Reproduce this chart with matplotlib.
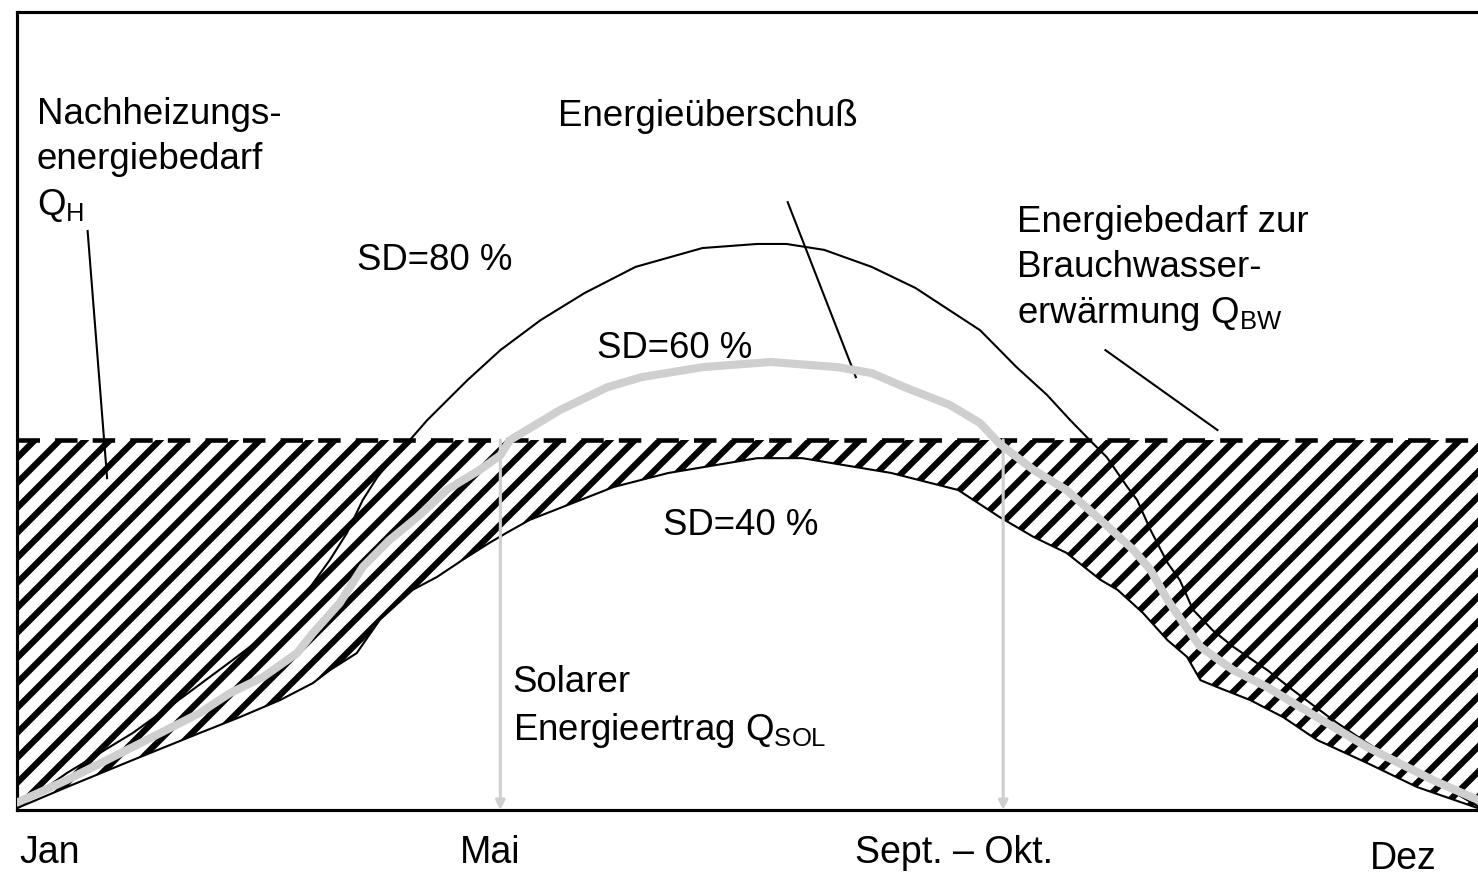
import matplotlib
matplotlib.use("Agg")
import matplotlib.pyplot as plt

# ---------------------------------------------------------------------------
# Daten (x: Monate ab Jan, y: Energie, Brauchwasserbedarf = 100)
# ---------------------------------------------------------------------------
QBW_LEVEL = 100

sd80_x = [0.0, 0.41, 0.95, 1.36, 1.77, 2.02, 2.32, 2.41, 2.57, 2.71, 2.84, 2.96,
          3.12, 3.24, 3.37, 3.70, 3.97, 4.30, 4.66, 5.08, 5.63, 6.08, 6.32, 6.63,
          7.02, 7.38, 7.57, 7.91, 8.21, 8.46, 8.65, 8.81, 8.95, 9.12, 9.20, 9.31,
          9.45, 9.55, 9.66, 9.82, 9.99, 10.27, 10.48, 10.81, 11.09, 11.36, 11.63, 12.0]
sd80_y = [0.5, 10.0, 20.8, 30.5, 40.5, 46.8, 55.9, 60.3, 67.6, 74.9, 83.8, 90.0,
          96.5, 100.5, 105.4, 116.2, 124.3, 132.4, 139.7, 146.8, 151.9, 153.0, 153.0, 151.4,
          146.8, 141.1, 137.0, 129.7, 119.7, 112.2, 105.4, 100.0, 95.4, 87.3, 83.8, 75.7,
          66.8, 62.2, 54.1, 48.6, 44.1, 37.8, 32.4, 24.3, 18.1, 12.7, 8.1, 1.0]

sd60_x = [0.0, 0.41, 0.95, 1.50, 1.75, 2.02, 2.30, 2.43, 2.65, 2.84, 3.06, 3.29,
          3.53, 3.80, 3.97, 4.05, 4.46, 4.85, 5.13, 5.63, 6.19, 6.74, 7.02, 7.29,
          7.66, 7.91, 8.07, 8.35, 8.62, 8.90, 9.17, 9.31, 9.45, 9.58, 9.72, 9.99,
          10.27, 10.54, 11.09, 11.63, 12.0]
sd60_y = [2.0, 8.1, 17.0, 26.2, 31.6, 35.9, 42.4, 47.8, 55.9, 65.7, 73.0, 79.2,
          86.5, 91.9, 95.9, 100.0, 108.1, 114.3, 117.0, 119.7, 121.1, 119.7, 118.1, 114.3,
          109.5, 104.6, 99.0, 91.9, 86.5, 78.4, 70.3, 64.9, 56.8, 50.5, 44.1, 37.8,
          33.2, 27.8, 17.0, 8.1, 2.7]

sd40_x = [0.0, 0.41, 0.95, 1.50, 1.83, 2.16, 2.43, 2.57, 2.79, 2.98, 3.25, 3.45,
          3.66, 3.88, 4.02, 4.21, 4.90, 5.35, 6.08, 6.45, 7.18, 7.73, 8.07, 8.35,
          8.62, 8.90, 9.04, 9.25, 9.45, 9.61, 9.72, 9.86, 10.13, 10.40, 10.68, 11.09,
          11.50, 12.0]
sd40_y = [0.5, 6.2, 13.5, 20.8, 25.1, 29.7, 34.3, 37.8, 42.4, 51.4, 59.5, 63.0,
          67.6, 72.2, 74.9, 78.4, 87.3, 91.1, 95.1, 95.1, 91.1, 86.5, 79.2, 73.8,
          69.5, 62.2, 59.5, 53.2, 45.9, 41.4, 35.1, 33.2, 29.7, 25.1, 18.9, 12.7,
          6.2, 0.5]

# Monatsbeschriftung
month_labels = ["Jan", "Mai", "Sept. – Okt.", "Dez"]
month_pos = [0.02, 3.64, 6.88, 11.11]
month_base = [-14.3, -14.3, -14.3, -15.9]

# Grenzen der Solarperiode (graue Pfeile)
sol_start, sol_end = 3.97, 8.10

# ---------------------------------------------------------------------------
# Stil
# ---------------------------------------------------------------------------
plt.rcParams["font.family"] = ["Liberation Sans", "DejaVu Sans"]
plt.rcParams["mathtext.fontset"] = "custom"
plt.rcParams["mathtext.rm"] = "Liberation Sans"
plt.rcParams["mathtext.default"] = "regular"
plt.rcParams["hatch.linewidth"] = 3.0
plt.rcParams["hatch.color"] = "black"

GRAY = "#cfcfcf"
FS = 17.6
LS = 1.37
DPI = 150

fig = plt.figure(figsize=(1478 / DPI, 874 / DPI), dpi=DPI)
ax = fig.add_axes([17 / 1478, 64 / 874, 1461 / 1478, 798 / 874])
ax.set_xlim(0, 12)
ax.set_ylim(0, 215.7)
ax.set_xticks([])
ax.set_yticks([])
ax.spines["right"].set_visible(False)
for s in ["left", "top", "bottom"]:
    ax.spines[s].set_linewidth(1.5)

# Schraffierte Fläche: Nachheizungsbedarf zwischen SD=40 % und Q_BW
ax.fill_between(sd40_x, sd40_y, QBW_LEVEL, facecolor="none", edgecolor="black",
                linewidth=0, hatch="//", zorder=1)

ax.axhline(QBW_LEVEL, color="black", lw=2.2, dashes=(4.9, 3.3), zorder=3)

ax.plot(sd40_x, sd40_y, color="black", lw=1.0, zorder=4)
ax.plot(sd80_x, sd80_y, color="black", lw=1.0, zorder=4)
ax.plot(sd60_x, sd60_y, color=GRAY, lw=3.9, solid_capstyle="round",
        solid_joinstyle="round", zorder=5)

for xv in (sol_start, sol_end):
    ax.annotate("", xy=(xv, 0), xytext=(xv, QBW_LEVEL),
                arrowprops=dict(arrowstyle="-|>", color=GRAY, lw=1.5,
                                mutation_scale=9, shrinkA=0, shrinkB=0),
                zorder=6)

# Beschriftungen (mehrzeilig: y = Grundlinie der letzten Zeile)
ax.text(0.164, 160.8, "Nachheizungs-\nenergiebedarf\nQ$_{H}$", fontsize=FS,
        va="baseline", ha="left", linespacing=LS)
ax.plot([0.58, 0.74], [156.5, 89.7], color="black", lw=1.0, zorder=4)

ax.text(2.79, 145.9, "SD=80 %", fontsize=FS, va="baseline")
ax.text(4.44, 184.9, "Energieüberschuß", fontsize=FS, va="baseline")
ax.plot([6.33, 6.89], [164.3, 117.0], color="black", lw=1.0, zorder=4)
ax.text(4.76, 122.2, "SD=60 %", fontsize=FS, va="baseline")
ax.text(5.31, 74.3, "SD=40 %", fontsize=FS, va="baseline")

ax.text(8.21, 131.6, "Energiebedarf zur\nBrauchwasser-\nerwärmung Q$_{BW}$",
        fontsize=FS, va="baseline", ha="left", linespacing=LS)
ax.plot([8.94, 9.86], [124.3, 102.7], color="black", lw=1.0, zorder=4)

ax.text(4.07, 18.9, "Solarer\nEnergieertrag Q$_{SOL}$", fontsize=FS,
        va="baseline", ha="left", linespacing=LS)

for lbl, xp, yb in zip(month_labels, month_pos, month_base):
    ax.text(xp, yb, lbl, fontsize=18, va="baseline", ha="left", clip_on=False)

fig.savefig("out.png", dpi=DPI)
